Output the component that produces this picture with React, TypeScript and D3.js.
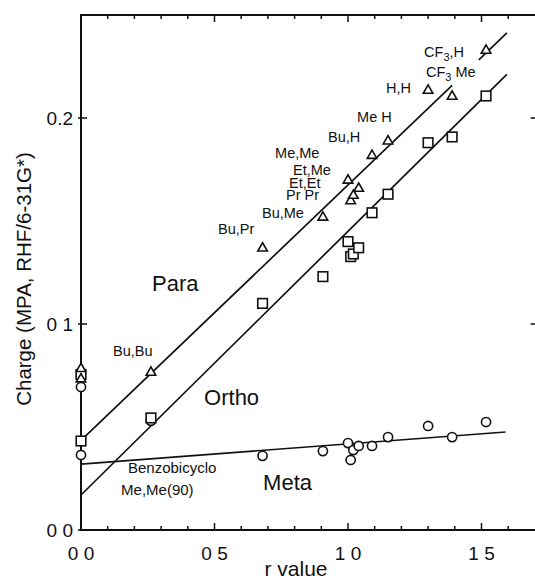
import React from "react";
import * as d3 from "d3";

// ---- data ----
const rValues = [0, 0, 0.262, 0.68, 0.906, 1.0, 1.01, 1.02, 1.04, 1.09, 1.15, 1.30, 1.39, 1.517];
const paraCharge = [0.0785, 0.0735, 0.0767, 0.137, 0.152, 0.170, 0.160, 0.1626, 0.166, 0.182, 0.189, 0.2136, 0.2107, 0.233];
const orthoCharge = [0.0755, 0.0432, 0.0544, 0.110, 0.123, 0.140, 0.1327, 0.134, 0.137, 0.154, 0.163, 0.188, 0.1908, 0.2107];
const metaCharge = [0.0694, 0.0364, 0.053, 0.036, 0.0383, 0.0422, 0.034, 0.0388, 0.0408, 0.0408, 0.0451, 0.0505, 0.0451, 0.0524];

// fitted lines: [intercept, slope], and the r ranges they are drawn over
const paraFit = [0.0435, 0.124];
const paraSegments = [[0, 1.39], [1.49, 1.595]];
const orthoFit = [0.017, 0.128];
const orthoSegments = [[0, 1.595]];
const metaFit = [0.032, 0.0098];
const metaSegments = [[0, 1.59]];

const xTickValues = [0, 0.5, 1.0, 1.5];
const xTickLabels = ["0 0", "0 5", "1 0", "1 5"];
const yTickValues = [0, 0.1, 0.2];
const yTickLabels = ["0 0", "0 1", "0.2"];

// compound labels (anchored in data coordinates)
const compoundLabels = ["Bu,Bu", "Bu,Pr", "Bu,Me", "Me,Me", "Et,Me", "Et,Et", "Pr Pr", "Bu,H", "Me H", "H,H", "CF3,H", "CF3 Me"];
const compoundLabelR = [0.12, 0.513, 0.678, 0.727, 0.794, 0.779, 0.768, 0.925, 1.034, 1.142, 1.285, 1.292];
const compoundLabelQ = [0.0845, 0.1437, 0.1515, 0.1806, 0.1723, 0.166, 0.160, 0.1883, 0.198, 0.2121, 0.2296, 0.2199];

const seriesNames = ["Para", "Ortho", "Meta"];
const seriesNameR = [0.266, 0.461, 0.682];
const seriesNameQ = [0.116, 0.0607, 0.0194];

const noteLines = ["Benzobicyclo", "Me,Me(90)"];
const noteR = [0.176, 0.150];
const noteQ = [0.0275, 0.0172];

const W = 535;
const H = 579;
const FONT = "'Liberation Sans', Arial, Helvetica, sans-serif";

export default function App() {
  const x = d3.scaleLinear().domain([0, 1.71]).range([81, 81 + 1.71 * 267]);
  const y = d3.scaleLinear().domain([0, 0.25]).range([530, 15]);
  const [x0, x1] = x.range();
  const [yb, yt] = y.range();

  const line = d3.line<[number, number]>().x((d) => x(d[0])).y((d) => y(d[1]));
  const fitPath = (fit: number[], seg: number[]) =>
    line([
      [seg[0], fit[0] + fit[1] * seg[0]],
      [seg[1], fit[0] + fit[1] * seg[1]],
    ]) || "";

  const minorX = d3.range(0, 17).map((i) => i / 10);
  const tri = d3.symbol().type(d3.symbolTriangle).size(40)() || "";

  const renderLabel = (s: string) => {
    if (s.startsWith("CF3")) {
      return (
        <>
          CF
          <tspan fontSize={11} dy={4}>3</tspan>
          <tspan dy={-4}>{s.slice(3)}</tspan>
        </>
      );
    }
    return s;
  };

  return (
    <svg width={W} height={H} style={{ position: "absolute", left: 0, top: 0, background: "#fff" }} fontFamily={FONT}>
      <rect width={W} height={H} fill="#fff" />
      {/* frame */}
      <rect x={x0} y={yt} width={x1 - x0} height={yb - yt} fill="none" stroke="#111" strokeWidth={2} />
      {/* x ticks (bottom & top, inward) */}
      {minorX.map((v, i) => {
        const major = i % 5 === 0;
        const len = major ? 7 : 4;
        return (
          <g key={"xt" + i} stroke="#111" strokeWidth={1.5}>
            <line x1={x(v)} x2={x(v)} y1={yb} y2={yb - len} />
            <line x1={x(v)} x2={x(v)} y1={yt} y2={yt + len} />
          </g>
        );
      })}
      {/* y ticks */}
      {yTickValues.map((v, i) => (
        <g key={"yt" + i} stroke="#111" strokeWidth={1.5}>
          <line x1={x0} x2={x0 + 6} y1={y(v)} y2={y(v)} />
          <line x1={x0 - 3} x2={x0} y1={y(v)} y2={y(v)} />
          <line x1={x1} x2={x1 - 7} y1={y(v)} y2={y(v)} />
        </g>
      ))}
      {/* tick labels */}
      {xTickValues.map((v, i) => (
        <text key={"xl" + i} x={x(v)} y={560} textAnchor="middle" fontSize={19} fill="#111">
          {xTickLabels[i]}
        </text>
      ))}
      {yTickValues.map((v, i) => (
        <text key={"yl" + i} x={73} y={y(v) + 7} textAnchor="end" fontSize={19} fill="#111">
          {yTickLabels[i]}
        </text>
      ))}
      {/* axis titles */}
      <text x={296} y={576} textAnchor="middle" fontSize={21} fill="#111">r value</text>
      <text transform="translate(31,279) rotate(-90)" textAnchor="middle" fontSize={20.5} fill="#111">
        Charge (MPA, RHF/6-31G*)
      </text>

      {/* fit lines */}
      <g fill="none" stroke="#111" strokeWidth={1.7}>
        {paraSegments.map((s, i) => <path key={"ps" + i} d={fitPath(paraFit, s)} />)}
        {orthoSegments.map((s, i) => <path key={"os" + i} d={fitPath(orthoFit, s)} />)}
        {metaSegments.map((s, i) => <path key={"ms" + i} d={fitPath(metaFit, s)} />)}
      </g>

      {/* markers */}
      <g fill="#fff" stroke="#111" strokeWidth={1.6}>
        {rValues.map((r, i) => (
          <circle key={"m" + i} cx={x(r)} cy={y(metaCharge[i])} r={4.6} />
        ))}
        {rValues.map((r, i) => (
          <rect key={"o" + i} x={x(r) - 4.8} y={y(orthoCharge[i]) - 4.8} width={9.6} height={9.6} />
        ))}
        {rValues.map((r, i) => (
          <path key={"p" + i} d={tri} transform={`translate(${x(r)},${y(paraCharge[i]) + 0.5})`} />
        ))}
      </g>

      {/* labels */}
      {compoundLabels.map((s, i) => (
        <text key={"cl" + i} x={x(compoundLabelR[i])} y={y(compoundLabelQ[i])} fontSize={14.5} fill="#111">
          {renderLabel(s)}
        </text>
      ))}
      {seriesNames.map((s, i) => (
        <text key={"sn" + i} x={x(seriesNameR[i])} y={y(seriesNameQ[i])} fontSize={22} fill="#111">
          {s}
        </text>
      ))}
      {noteLines.map((s, i) => (
        <text key={"nl" + i} x={x(noteR[i])} y={y(noteQ[i])} fontSize={15} fill="#111">
          {s}
        </text>
      ))}
    </svg>
  );
}
